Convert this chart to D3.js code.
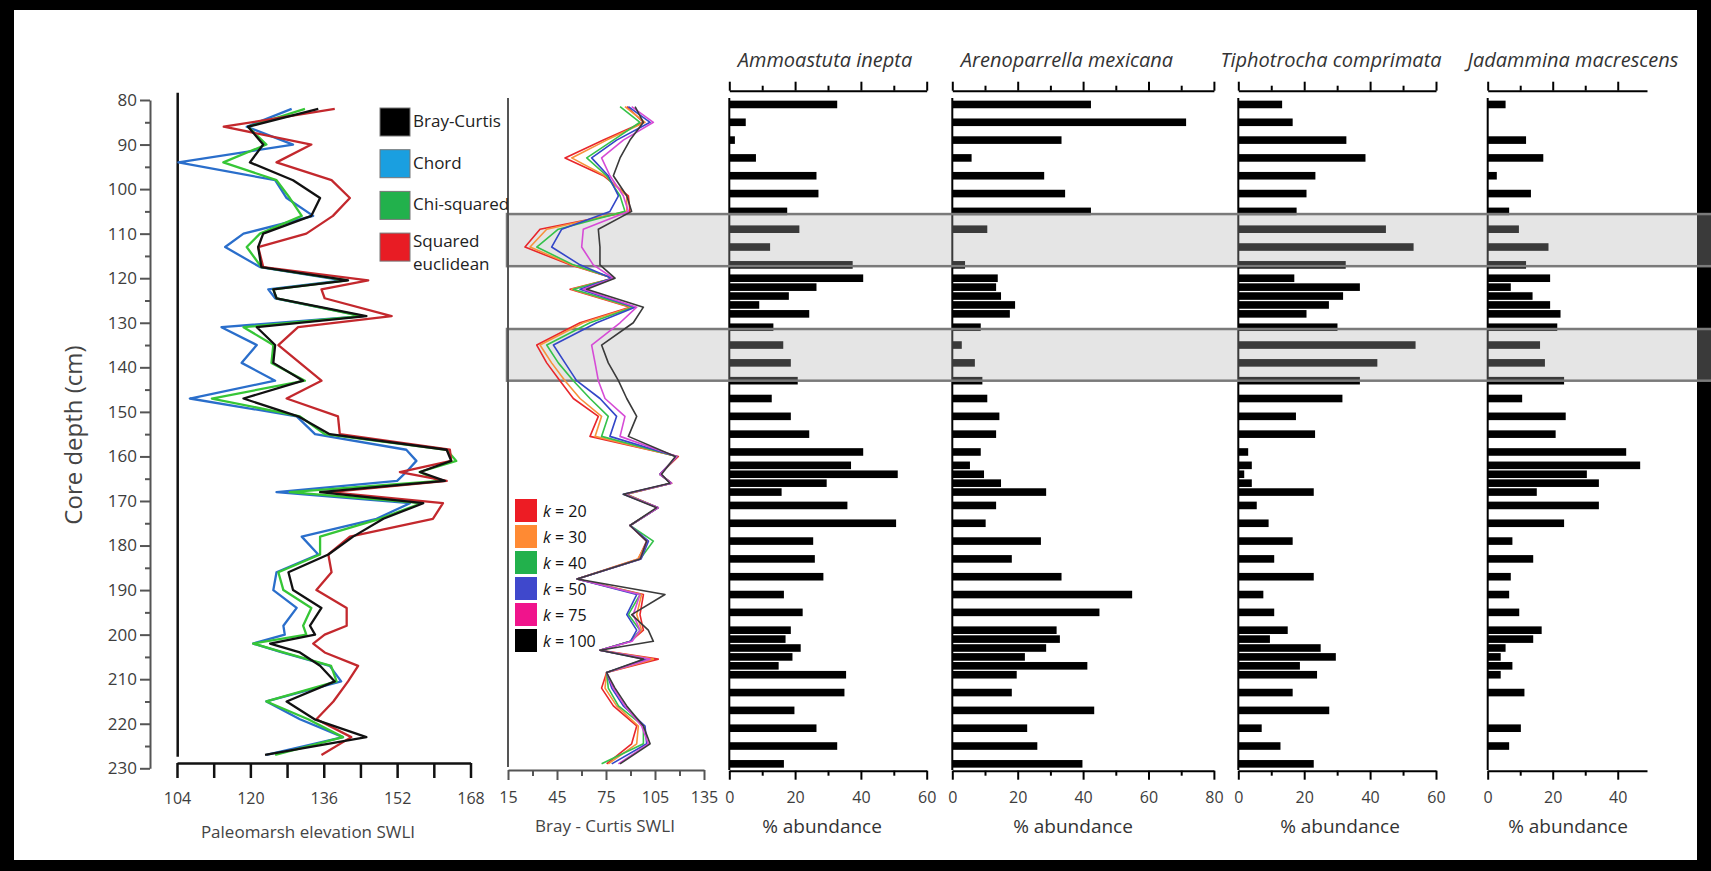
<!DOCTYPE html>
<html>
<head>
<meta charset="utf-8">
<script src="https://cdn.jsdelivr.net/npm/d3@7"></script>
<style>
  body { margin: 0; background: #000; }
  svg text { font-family: "Open Sans", sans-serif; }
</style>
</head>
<body>
<svg id="chart" width="1711" height="871"></svg>
<script>
// ---- data ----
// depths (cm) of the counted samples, used by the bar panels
const sampleDepths = [81, 85, 89, 93, 97, 101, 105, 109, 113, 117,
  120, 122, 124, 126, 128,
  131, 135, 139, 143, 147, 151, 155, 159,
  162, 164, 166, 168,
  171, 175, 179, 183, 187, 191, 195, 199,
  201, 203, 205, 207, 209,
  213, 217, 221, 225, 229];

const ammoastuta = [32.8, 5.0, 1.7, 8.1, 26.5, 27.1, 17.6, 21.3, 12.4, 37.5,
  40.7, 26.5, 18.1, 9.1, 24.3,
  13.4, 16.4, 18.7, 20.8, 12.9, 18.7, 24.3, 40.7,
  37.0, 51.2, 29.6, 15.9,
  35.9, 50.7, 25.5, 26.0, 28.6, 16.6, 22.3, 18.7,
  17.1, 21.7, 19.2, 15.0, 35.5,
  35.0, 19.8, 26.5, 32.8, 16.6];

const arenoparrella = [42.4, 71.5, 33.4, 5.9, 28.1, 34.5, 42.4, 10.7, 0, 3.9,
  13.9, 13.4, 14.9, 19.2, 17.6,
  8.7, 2.9, 6.9, 9.2, 10.7, 14.4, 13.4, 8.7,
  5.4, 9.7, 14.9, 28.7,
  13.4, 10.2, 27.1, 18.2, 33.4, 55.0, 45.0, 31.9,
  32.9, 28.7, 22.2, 41.3, 19.7,
  18.2, 43.4, 22.9, 26.0, 39.8];

const tiphotrocha = [13.3, 16.5, 32.8, 38.6, 23.4, 20.7, 17.7, 44.8, 53.2, 32.6,
  17.0, 36.9, 31.8, 27.5, 20.7,
  30.1, 53.8, 42.2, 36.9, 31.6, 17.5, 23.3, 3.0,
  4.1, 1.8, 4.1, 22.9,
  5.6, 9.2, 16.5, 10.9, 22.9, 7.6, 10.9, 15.0,
  9.6, 25.0, 29.6, 18.7, 23.9,
  16.5, 27.6, 7.1, 12.8, 22.9];

const jadammina = [5.5, 0, 11.8, 17.1, 2.8, 13.3, 6.6, 9.6, 18.7, 11.8,
  19.2, 7.1, 13.8, 19.2, 22.4,
  21.4, 16.1, 17.6, 23.5, 10.6, 24.0, 20.9, 42.6,
  46.9, 30.5, 34.2, 15.1,
  34.2, 23.5, 7.6, 14.0, 7.1, 6.6, 9.7, 16.6,
  14.0, 5.5, 4.0, 7.6, 4.0,
  11.3, 0, 10.2, 6.6, 0];

// paleomarsh elevation reconstructions (SWLI) by dissimilarity measure
const elevDepths = [82, 86, 90, 94, 98, 102, 106, 110, 113, 117.5,
  120.5, 122.5, 124.5, 128.5, 131, 135, 139, 143, 147, 151,
  155, 158.5, 161, 163.5, 165.5, 168, 170.5, 174, 178, 182,
  186, 190, 194, 198, 200, 202, 204, 207, 210.5, 215,
  219, 223, 227];

const brayCurtis = [134.8, 119.5, 122.8, 119.9, 129.3, 135.2, 133.3, 122.8, 121.7, 122.4,
  141.3, 125.0, 125.7, 145.3, 121.4, 125.4, 125.0, 131.5, 118.5, 130.4,
  137.3, 162.8, 163.8, 157.0, 162.4, 135.2, 157.7, 149.0, 142.4, 137.0,
  128.3, 129.3, 135.5, 133.0, 134.1, 124.3, 130.8, 135.2, 138.4, 127.9,
  134.0, 145.3, 123.2];

const chord = [129.0, 119.2, 129.3, 104.3, 125.4, 127.9, 133.7, 118.5, 114.5, 122.1,
  140.2, 123.9, 125.4, 144.6, 113.7, 121.4, 118.1, 125.4, 106.8, 130.1,
  134.1, 154.0, 156.2, 154.0, 152.0, 125.7, 154.8, 147.5, 131.2, 134.8,
  125.7, 125.0, 130.1, 127.2, 127.5, 120.6, 126.9, 137.3, 139.8, 123.5,
  130.8, 140.2, 123.5];

const chiSquared = [131.9, 119.5, 123.5, 114.1, 125.7, 128.6, 131.2, 122.1, 119.2, 122.4,
  141.0, 125.0, 125.7, 144.2, 118.5, 125.0, 124.6, 131.9, 111.6, 130.8,
  136.2, 162.8, 164.9, 156.9, 161.3, 128.6, 157.3, 148.2, 135.2, 135.2,
  126.1, 127.2, 133.3, 131.5, 132.2, 120.6, 127.2, 137.6, 138.8, 123.5,
  132.6, 140.2, 125.4];

const squaredEuclidean = [138.4, 114.2, 133.3, 125.7, 137.7, 141.7, 138.0, 132.2, 121.7, 122.8,
  145.7, 135.5, 136.2, 150.8, 130.4, 126.1, 130.8, 135.5, 127.9, 139.1,
  139.5, 163.5, 163.8, 152.6, 162.8, 137.3, 162.0, 159.8, 141.7, 137.0,
  137.7, 134.4, 141.0, 141.0, 136.2, 133.7, 136.2, 143.5, 141.3, 138.1,
  134.4, 142.0, 135.5];

// Bray-Curtis SWLI for different k
const kDepths = [81.5, 85, 89, 93, 97, 101.5, 105, 109, 113, 117,
  120, 122.5, 126.5, 130, 135, 139, 143, 147, 151,
  155.5, 160, 164, 166, 168.5, 171.5, 175.5, 179, 183, 187.5,
  191, 195.5, 199, 201.5, 203.5, 205.5, 208.5, 212, 216, 220.5,
  224.5, 229];

const k20 = [87.7, 97.9, 73.4, 49.9, 73.4, 88.7, 89.7, 34.6, 25.4, 53.0,
  79.5, 53.0, 89.7, 59.1, 32.6, 38.7, 46.8, 55.0, 70.3,
  65.2, 119.3, 108.0, 115.2, 87.6, 107.0, 89.7, 99.9, 94.8, 57.3,
  97.9, 95.8, 97.9, 90.0, 71.3, 107.0, 75.4, 72.3, 79.5, 93.8,
  90.7, 75.4];
const k30 = [86.6, 98.9, 75.4, 54.0, 74.4, 87.7, 87.7, 38.7, 28.5, 54.0,
  79.5, 54.0, 90.7, 61.1, 34.6, 41.7, 49.9, 59.1, 72.3,
  68.3, 118.5, 108.0, 115.0, 87.0, 107.0, 89.7, 100.5, 94.5, 57.3,
  96.8, 93.8, 96.8, 90.0, 71.3, 104.0, 75.4, 74.4, 81.5, 94.8,
  93.8, 76.4];
const k40 = [83.6, 95.8, 79.5, 63.2, 75.4, 83.6, 86.6, 45.8, 32.6, 55.0,
  79.5, 55.0, 91.7, 65.2, 38.7, 45.8, 55.0, 65.2, 76.4,
  72.3, 118.3, 108.0, 115.0, 87.0, 107.0, 89.7, 104.0, 96.0, 57.3,
  95.8, 88.7, 95.8, 90.0, 71.3, 100.9, 75.4, 76.4, 82.6, 97.9,
  97.9, 72.3];
const k50 = [88.7, 102.0, 81.5, 66.2, 76.4, 82.6, 77.4, 47.9, 41.7, 59.1,
  78.5, 59.1, 92.8, 69.3, 42.8, 49.9, 57.0, 71.3, 81.5,
  77.4, 118.3, 108.0, 115.0, 85.6, 107.0, 89.7, 101.0, 96.5, 57.3,
  93.8, 87.7, 93.8, 90.0, 71.3, 98.9, 75.4, 78.5, 85.6, 98.9,
  99.9, 78.5];
const k75 = [90.7, 104.0, 85.6, 72.3, 77.4, 85.6, 88.7, 61.1, 60.1, 67.2,
  79.5, 61.1, 93.8, 83.6, 66.2, 68.3, 70.3, 74.4, 86.6,
  83.6, 118.3, 108.0, 115.0, 86.5, 107.0, 89.7, 100.0, 96.0, 57.3,
  95.8, 91.7, 95.8, 91.0, 71.3, 102.0, 75.4, 79.5, 86.6, 96.8,
  100.9, 82.6];
const k100 = [92.8, 97.9, 89.7, 83.6, 79.5, 87.7, 90.7, 70.3, 71.3, 71.3,
  80.5, 63.2, 97.9, 91.7, 72.3, 76.4, 82.6, 87.7, 93.8,
  88.7, 117.5, 109.0, 114.0, 85.6, 106.0, 89.7, 99.9, 96.0, 57.3,
  111.1, 90.7, 100.9, 104.0, 71.3, 97.9, 75.4, 80.5, 87.7, 97.9,
  102.0, 83.6];

// highlighted depth intervals (cm)
const bandDepths = [[105.6, 117.3], [131.4, 143.0]];

const depthTicks = [80, 85, 90, 95, 100, 105, 110, 115, 120, 125, 130, 135, 140, 145, 150,
  155, 160, 165, 170, 175, 180, 185, 190, 195, 200, 205, 210, 215, 220, 225, 230];
const elevTicks = [104, 112, 120, 128, 136, 144, 152, 160, 168];
const kTicks = [15, 30, 45, 60, 75, 90, 105, 120, 135];

const measureNames = ["Bray-Curtis", "Chord", "Chi-squared", "Squared euclidean"];
const kNames = ["20", "30", "40", "50", "75", "100"];

// ---- drawing ----
const W = 1711, H = 871;
const svg = d3.select("#chart");
const FONT = '"Open Sans", sans-serif';

// frame
svg.append("rect").attr("width", W).attr("height", H).attr("fill", "#000");
svg.append("rect").attr("x", 14).attr("y", 10).attr("width", 1683).attr("height", 850).attr("fill", "#fff");

const y = d3.scaleLinear().domain([80, 230]).range([100, 768.3]);

function styleAxis(g, color, width, size) {
  g.attr("font-family", FONT).attr("font-size", size);
  g.select(".domain").attr("stroke", color).attr("stroke-width", width);
  g.selectAll(".tick line").attr("stroke", color).attr("stroke-width", width);
  g.selectAll(".tick text").attr("fill", "#3d3d3d");
}

// depth axis
const gDepth = svg.append("g").attr("transform", "translate(150,0)")
  .call(d3.axisLeft(y).tickValues(depthTicks).tickSize(10).tickSizeOuter(0).tickPadding(3)
    .tickFormat(d => d % 10 === 0 ? d : ""));
gDepth.selectAll(".tick line").attr("x2", d => d % 10 === 0 ? -10 : -5);
styleAxis(gDepth, "#555", 2, 17);

svg.append("text")
  .attr("transform", "translate(82,435) rotate(-90)")
  .attr("text-anchor", "middle")
  .attr("font-size", 24).attr("fill", "#444")
  .text("Core depth (cm)");

// bar panels
const panels = [
  { title: "Ammoastuta inepta", values: ammoastuta, domain: [0, 60], range: [729.3, 926.7], ticks: [0, 10, 20, 30, 40, 50, 60], titleX: 825, labelX: 822 },
  { title: "Arenoparrella mexicana", values: arenoparrella, domain: [0, 80], range: [952.3, 1213.9], ticks: [0, 10, 20, 30, 40, 50, 60, 70, 80], titleX: 1067, labelX: 1073 },
  { title: "Tiphotrocha comprimata", values: tiphotrocha, domain: [0, 60], range: [1238.3, 1436], ticks: [0, 10, 20, 30, 40, 50, 60], titleX: 1331, labelX: 1340 },
  { title: "Jadammina macrescens", values: jadammina, domain: [0, 49], range: [1487.7, 1647], ticks: [0, 10, 20, 30, 40], titleX: 1573, labelX: 1568 }
];

panels.forEach(p => {
  const x = d3.scaleLinear().domain(p.domain).range(p.range);
  const g = svg.append("g");

  g.selectAll("rect").data(p.values).join("rect")
    .attr("x", x(0))
    .attr("y", (d, i) => y(sampleDepths[i]) - 3.8)
    .attr("width", d => x(d) - x(0))
    .attr("height", 7.6)
    .attr("fill", "#000");

  g.append("line")
    .attr("x1", x(0)).attr("x2", x(0)).attr("y1", 98).attr("y2", 770)
    .attr("stroke", "#000").attr("stroke-width", 2);

  const top = g.append("g").attr("transform", "translate(0,90.7)")
    .call(d3.axisTop(x).tickValues(p.ticks).tickSize(9).tickSizeOuter(0).tickFormat(""));
  top.selectAll(".tick line").attr("y2", d => d % 20 === 0 ? -9 : -5);
  styleAxis(top, "#000", 2, 16);

  const bottom = g.append("g").attr("transform", "translate(0,770.7)")
    .call(d3.axisBottom(x).tickValues(p.ticks).tickSize(9).tickSizeOuter(0).tickPadding(12)
      .tickFormat(d => d % 20 === 0 ? d : ""));
  bottom.selectAll(".tick line").attr("y2", d => d % 20 === 0 ? 9 : 5);
  styleAxis(bottom, "#000", 2, 16);

  g.append("text")
    .attr("x", p.titleX).attr("y", 67)
    .attr("text-anchor", "middle")
    .attr("font-size", 20).attr("font-style", "italic").attr("fill", "#333")
    .text(p.title);

  g.append("text")
    .attr("x", p.labelX).attr("y", 833)
    .attr("text-anchor", "middle")
    .attr("font-size", 19).attr("fill", "#333")
    .text("% abundance");
});

// grey intervals, over the bars
svg.append("g").selectAll("rect").data(bandDepths).join("rect")
  .attr("x", 507)
  .attr("y", d => y(d[0]))
  .attr("width", W - 507 + 20)
  .attr("height", d => y(d[1]) - y(d[0]))
  .attr("fill", "#b0b0b0").attr("fill-opacity", 0.33)
  .attr("stroke", "#7a7a7a").attr("stroke-width", 2.5);

// middle panel: Bray-Curtis SWLI, several k
const xM = d3.scaleLinear().domain([15, 135]).range([508, 704]);
svg.append("line")
  .attr("x1", 508).attr("x2", 508).attr("y1", 98).attr("y2", 767)
  .attr("stroke", "#555").attr("stroke-width", 2);
const gM = svg.append("g").attr("transform", "translate(0,770)")
  .call(d3.axisBottom(xM).tickValues(kTicks).tickSize(10).tickSizeOuter(0).tickPadding(12)
    .tickFormat(d => (d - 15) % 30 === 0 ? d : ""));
gM.selectAll(".tick line").attr("y2", d => (d - 15) % 30 === 0 ? 10 : 6);
styleAxis(gM, "#555", 2, 16);
svg.append("text")
  .attr("x", 605).attr("y", 832)
  .attr("text-anchor", "middle")
  .attr("font-size", 17).attr("fill", "#444")
  .text("Bray - Curtis SWLI");

const kSeries = [k20, k30, k40, k50, k75, k100];
const kLineColors = ["#e8262b", "#f7923a", "#35c24a", "#3346c8", "#d64bd6", "#3a3a3a"];
const kSwatchColors = ["#ed1c24", "#ff8a33", "#22b14c", "#3f48cc", "#f0148c", "#000"];

const lineM = d3.line()
  .x(d => xM(d))
  .y((d, i) => y(kDepths[i]));
svg.append("g").selectAll("path").data(kSeries).join("path")
  .attr("d", lineM)
  .attr("fill", "none")
  .attr("stroke", (d, i) => kLineColors[i])
  .attr("stroke-width", 1.6)
  .attr("stroke-linejoin", "round");

const kLegend = svg.append("g").selectAll("g").data(kNames).join("g")
  .attr("transform", (d, i) => `translate(515,${499 + i * 26})`);
kLegend.append("rect")
  .attr("width", 22).attr("height", 23)
  .attr("fill", (d, i) => kSwatchColors[i]);
const kText = kLegend.append("text")
  .attr("x", 28).attr("y", 18)
  .attr("font-size", 16).attr("fill", "#111");
kText.append("tspan").attr("font-style", "italic").text("k");
kText.append("tspan").text(d => " = " + d);

// left panel: paleomarsh elevation
const xL = d3.scaleLinear().domain([104, 168]).range([177, 470.5]);
svg.append("line")
  .attr("x1", 177.7).attr("x2", 177.7).attr("y1", 92.7).attr("y2", 756.7)
  .attr("stroke", "#111").attr("stroke-width", 2.5);
const gL = svg.append("g").attr("transform", "translate(0,763)")
  .call(d3.axisBottom(xL).tickValues(elevTicks).tickSize(15).tickSizeOuter(0).tickPadding(15)
    .tickFormat(d => (d - 104) % 16 === 0 ? d : ""));
styleAxis(gL, "#111", 2.5, 16);
svg.append("text")
  .attr("x", 308).attr("y", 838)
  .attr("text-anchor", "middle")
  .attr("font-size", 17).attr("fill", "#444")
  .text("Paleomarsh elevation SWLI");

const elevSeries = [chord, chiSquared, squaredEuclidean, brayCurtis];
const elevLineColors = ["#2a6ecb", "#36c636", "#c3282d", "#111"];
const lineL = d3.line()
  .x(d => xL(d))
  .y((d, i) => y(elevDepths[i]));
svg.append("g").selectAll("path").data(elevSeries).join("path")
  .attr("d", lineL)
  .attr("fill", "none")
  .attr("stroke", (d, i) => elevLineColors[i])
  .attr("stroke-width", 2.3)
  .attr("stroke-linejoin", "round");

const measureSwatches = ["#000", "#1a9fe0", "#22b14c", "#e81c24"];
const mLegend = svg.append("g").selectAll("g").data(measureNames).join("g")
  .attr("transform", (d, i) => `translate(380,${108 + i * 41.7})`);
mLegend.append("rect")
  .attr("width", 30).attr("height", 28)
  .attr("fill", (d, i) => measureSwatches[i])
  .attr("stroke", "#777").attr("stroke-width", 1);
mLegend.append("text")
  .attr("x", 33)
  .attr("font-size", 17).attr("fill", "#222")
  .each(function(d) {
    const t = d3.select(this);
    const parts = d === "Squared euclidean" ? ["Squared", "euclidean"] : [d];
    parts.forEach((s, j) => {
      t.append("tspan").attr("x", 33)
        .attr("y", parts.length > 1 ? 14 + j * 23 : 19)
        .text(s);
    });
  });
</script>
</body>
</html>
